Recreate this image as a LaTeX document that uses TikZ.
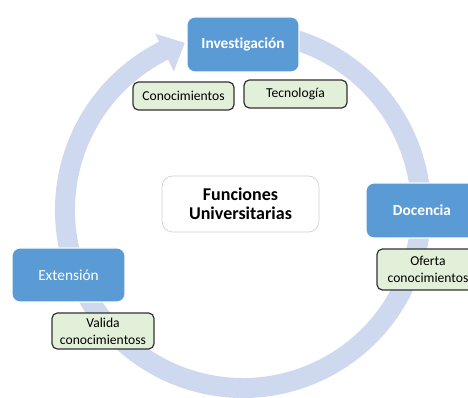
\documentclass[tikz,border=0pt]{standalone}
\usepackage{fontspec}
\setmainfont{Carlito}[Ligatures=NoCommon]
\usetikzlibrary{positioning}
\tikzstyle{canvas} = [x = .75pt, y = -.75pt]
\definecolor{ringColor}{RGB}{206,216,238}
\definecolor{functionColor}{RGB}{91,155,213}
\definecolor{taskColor}{RGB}{226,239,217}
\definecolor{taskLineColor}{RGB}{50,50,50}
\tikzstyle{functionStyle} = [fill=functionColor, draw=white, rounded corners = 6pt, line width = .8pt]
\tikzstyle{functionText} = [text=white, font=\fontsize{11.5}{14}\selectfont\bfseries, midway]
\tikzstyle{taskStyle} = [fill=taskColor, draw=taskLineColor, rounded corners = 4pt, line width = .9pt]
\tikzstyle{taskText} = [font=\fontsize{10.2}{13}\selectfont, midway, align=center]
\tikzstyle{centerStyle} = [fill=white, draw=black!18, rounded corners = 8pt, line width = .5pt]
\tikzstyle{centerText} = [font=\fontsize{13.5}{14.5}\selectfont\bfseries, midway, align=center]
\newcommand{\functionBox}[6]{\filldraw [functionStyle] (#1, #2) rectangle (#3, #4) node [functionText] (#5) {#6};}
\newcommand{\taskBox}[6]{\filldraw [taskStyle] (#1, #2) rectangle (#3, #4) node [taskText] (#5) {#6};}
\newcommand{\ringIn}{168}
\newcommand{\ringOut}{188}
\begin{document}
\begin{tikzpicture}[canvas]
  \useasboundingbox (0,0) rectangle (468,398);
  \begin{scope}[shift={(243,210)}]
    \fill [ringColor] (-78:\ringOut) arc [start angle = -78, end angle = 243.5, radius = \ringOut]
      -- (243.5:197) -- (250.8:177) -- (243.5:155) -- (243.5:\ringIn)
      arc [start angle = 243.5, end angle = -78, radius = \ringIn] -- cycle;
  \end{scope}

  \functionBox{187}{17}{299}{72}{investigacion}{Investigación}
  \taskBox{133}{82}{234}{110}{conocimientos}{Conocimientos}
  \taskBox{244}{80}{347}{108}{tecnologia}{Tecnología}

  \filldraw [centerStyle] (162,176) rectangle (319,232) node [centerText] (funciones) {Funciones\\Universitarias};

  \functionBox{366}{183}{478}{238}{docencia}{Docencia}
  \taskBox{377}{249}{479}{290}{oferta}{Oferta\\conocimientos}

  \functionBox{12}{248}{125}{302}{extension}{\mdseries Extensión}
  \taskBox{52}{313}{154}{349}{valida}{Valida\\conocimientoss}
\end{tikzpicture}
\end{document}
